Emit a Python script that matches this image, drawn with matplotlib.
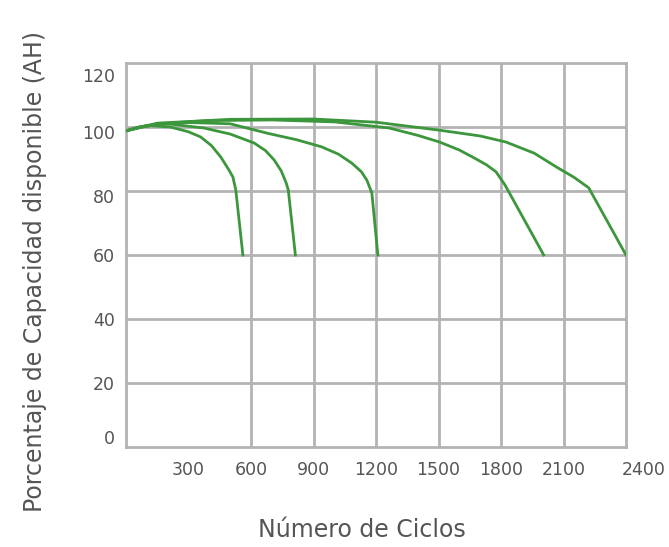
import matplotlib
matplotlib.use("Agg")
import matplotlib.pyplot as plt
from matplotlib.ticker import FixedLocator
import matplotlib.transforms as mtrans

plt.rcParams['font.family'] = ['DejaVu Sans']

# Curves: (cycles, capacity %)
c1_x = [0, 60, 120, 213, 300, 358, 410, 455, 490, 513, 527, 561]
c1_y = [98.8, 100.0, 100.4, 100.0, 98.5, 96.9, 94.2, 90.6, 87.0, 84.4, 80.3, 60]
c2_x = [0, 80, 200, 373, 500, 615, 670, 711, 745, 769, 779, 813]
c2_y = [98.8, 100.2, 101.0, 99.7, 97.8, 95.0, 92.6, 89.7, 86.3, 82.5, 80.3, 60]
c3_x = [0, 100, 300, 500, 682, 820, 939, 1020, 1084, 1130, 1156, 1180, 1209]
c3_y = [98.8, 100.5, 101.4, 101.0, 98.0, 96.0, 93.8, 91.5, 88.7, 86.0, 83.4, 79.4, 60]
c4_x = [0, 150, 400, 700, 1000, 1262, 1400, 1505, 1600, 1664, 1730, 1776, 1819, 2005]
c4_y = [98.8, 101.0, 102.0, 102.2, 101.6, 99.7, 97.4, 95.3, 92.8, 90.6, 88.2, 86.0, 81.9, 60]
c5_x = [0, 150, 500, 900, 1200, 1505, 1700, 1824, 1960, 2066, 2150, 2221, 2400]
c5_y = [98.8, 101.2, 102.4, 102.5, 101.5, 99.0, 97.2, 95.3, 91.8, 87.5, 84.3, 81.0, 60]
curves = [(c1_x, c1_y), (c2_x, c2_y), (c3_x, c3_y), (c4_x, c4_y), (c5_x, c5_y)]

x_ticks = [300, 600, 900, 1200, 1500, 1800, 2100, 2400]
x_grid = [600, 900, 1200, 1500, 1800, 2100]
y_ticks = [0, 20, 40, 60, 80, 100, 120]

fig = plt.figure(figsize=(6.69, 5.47), dpi=100)
ax = fig.add_axes([126/669, 1 - 447/547, 500/669, 384/547])
ax.set_xlim(0, 2400)
ax.set_ylim(0, 120)

grid_c = '#b3b3b3'
for xv in x_grid:
    ax.axvline(xv, color=grid_c, lw=2, zorder=1)
for yv in y_ticks[1:-1]:
    ax.axhline(yv, color=grid_c, lw=2, zorder=1)
for s in ax.spines.values():
    s.set_color(grid_c)
    s.set_linewidth(2)

for xs, ys in curves:
    ax.plot(xs, ys, color='#3c973c', lw=2, solid_joinstyle='round', zorder=3)

ax.xaxis.set_major_locator(FixedLocator(x_ticks))
ax.yaxis.set_major_locator(FixedLocator(y_ticks))
ax.set_xticklabels([str(v) for v in x_ticks])
ax.set_yticklabels([str(v) for v in y_ticks])
ax.tick_params(length=0, labelsize=12.5, colors='#555555', pad=8)
ax.tick_params(axis='x', pad=10)

for lab, v in zip(ax.get_xticklabels(), x_ticks):
    if v == 2400:
        lab.set_transform(lab.get_transform() + mtrans.ScaledTranslation(0.18, 0, fig.dpi_scale_trans))
for lab, v in zip(ax.get_yticklabels(), y_ticks):
    dy = {120: -0.12, 100: -0.05, 80: -0.05, 0: 0.1}.get(v, 0)
    lab.set_transform(lab.get_transform() + mtrans.ScaledTranslation(0, dy, fig.dpi_scale_trans))

fig.text(362/669, 1 - 530/547, 'Número de Ciclos', ha='center', va='center',
         fontsize=17, color='#555555')
fig.text(35/669, 1 - 272/547, 'Porcentaje de Capacidad disponible (AH)', ha='center',
         va='center', rotation=90, fontsize=17, color='#555555')

fig.savefig('out.png', dpi=100)
